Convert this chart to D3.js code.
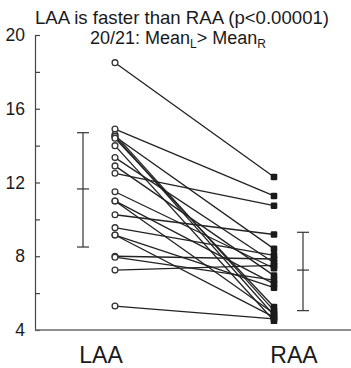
<!DOCTYPE html>
<html><head><meta charset="utf-8">
<script src="https://cdn.jsdelivr.net/npm/d3@7"></script>
<style>body{margin:0;background:#fff}svg{display:block}text{font-family:"Liberation Sans",Arial,sans-serif;fill:#1a1a1a}</style>
</head><body><svg id="c" width="351" height="368"></svg>
<script>
const groups = ["LAA", "RAA"];
const laaValues = [18.5, 14.9, 14.6, 14.5, 14.5, 14.4, 14.0, 13.35, 12.9, 12.5, 11.5, 11.0, 11.0, 10.25, 9.55, 9.15, 9.15, 8.0, 7.95, 7.25, 5.3];
const raaValues = [12.3, 11.27, 5.05, 4.8, 8.4, 5.25, 4.5, 7.65, 6.95, 10.74, 7.35, 4.9, 6.5, 9.18, 8.05, 6.3, 4.7, 7.85, 6.7, 7.5, 4.6];
const meanValues = [11.65, 7.25];
const sdLow = [8.5, 5.05];
const sdHigh = [14.7, 9.3];
const yTicks = [4, 8, 12, 16, 20];
const yMinorTicks = [6, 10, 14, 18];
const titleText = "LAA is faster than RAA (p<0.00001)";

const svg = d3.select("#c");
const y = d3.scaleLinear().domain([4, 20]).range([330, 35]);
const x = d3.scalePoint().domain(groups).range([115, 274]);
const xLabel = d3.scalePoint().domain(groups).range([101, 294]);
const errOffset = {LAA: -32, RAA: 29};

// y axis
const yAxis = d3.axisLeft(y).tickValues(yTicks).tickSizeInner(-5).tickSizeOuter(0).tickPadding(10).tickFormat(d3.format("d"));
const ga = svg.append("g").attr("transform", "translate(35,0)").call(yAxis);
ga.select(".domain").attr("stroke", "#444").attr("stroke-width", 1.2);
ga.selectAll(".tick line").attr("stroke", "#444").attr("stroke-width", 1.2);
ga.selectAll(".tick text").attr("font-size", 17.5).attr("font-family", "Liberation Sans, Arial, sans-serif").attr("fill", "#1a1a1a");
const gm = svg.append("g").attr("transform", "translate(35,0)")
  .call(d3.axisLeft(y).tickValues(yMinorTicks).tickSizeInner(-5).tickSizeOuter(0).tickFormat(""));
gm.select(".domain").remove();
gm.selectAll(".tick line").attr("stroke", "#444").attr("stroke-width", 1.2);

// bottom line
svg.append("line").attr("x1", 35).attr("x2", 351).attr("y1", y(4)).attr("y2", y(4))
  .attr("stroke", "#6a6a6a").attr("stroke-width", 1.6);

// connecting lines
const pairs = laaValues.map((v, i) => ({l: v, r: raaValues[i]}));
svg.append("g").selectAll("line").data(pairs).join("line")
  .attr("x1", x("LAA")).attr("x2", x("RAA"))
  .attr("y1", d => y(d.l)).attr("y2", d => y(d.r))
  .attr("stroke", "#222").attr("stroke-width", 1.3);

// left circles
svg.append("g").selectAll("circle").data(laaValues).join("circle")
  .attr("cx", x("LAA")).attr("cy", d => y(d)).attr("r", 2.9)
  .attr("fill", "#fff").attr("stroke", "#333").attr("stroke-width", 1.3);

// right squares
svg.append("g").selectAll("rect").data(raaValues).join("rect")
  .attr("x", x("RAA") - 3.3).attr("y", d => y(d) - 3.3).attr("width", 6.6).attr("height", 6.6).attr("rx", 1.2)
  .attr("fill", "#1a1a1a");

// error bars
groups.forEach((g, i) => {
  const cx = x(g) + errOffset[g];
  const eg = svg.append("g").attr("stroke", "#333").attr("stroke-width", 1.2);
  eg.append("line").attr("x1", cx).attr("x2", cx).attr("y1", y(sdHigh[i])).attr("y2", y(sdLow[i]));
  [sdHigh[i], meanValues[i], sdLow[i]].forEach(v => {
    eg.append("line").attr("x1", cx - 6).attr("x2", cx + 6).attr("y1", y(v)).attr("y2", y(v));
  });
});

// x labels
svg.append("g").selectAll("text").data(groups).join("text")
  .attr("x", d => xLabel(d)).attr("y", 363).attr("text-anchor", "middle")
  .attr("font-size", 23).text(d => d);

// titles
svg.append("text").attr("x", 182).attr("y", 24).attr("text-anchor", "middle").attr("font-size", 18.6).text(titleText);
const sub = svg.append("text").attr("x", 90).attr("y", 44).attr("font-size", 18);
sub.append("tspan").text("20/21: Mean");
sub.append("tspan").attr("font-size", 12).attr("dy", 4).text("L");
sub.append("tspan").attr("dy", -4).text("> Mean");
sub.append("tspan").attr("font-size", 12).attr("dy", 4).text("R");
</script></body></html>
